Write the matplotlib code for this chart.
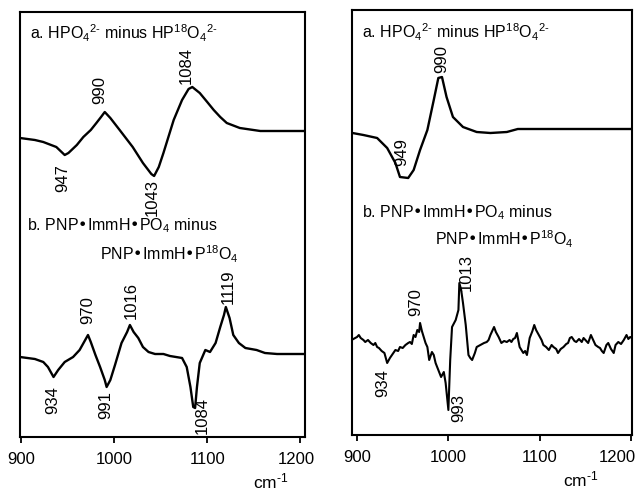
import matplotlib
matplotlib.use('Agg')
import matplotlib.pyplot as plt
import matplotlib.transforms as mtransforms

plt.rcParams['font.family'] = ['Liberation Sans', 'DejaVu Sans']
plt.rcParams['mathtext.default'] = 'regular'

# ---- left panel data (wavenumber, arbitrary intensity) ----
left_a_x = [899, 915, 924, 938, 947, 951, 960, 967, 975, 981, 986, 990, 996, 1006,
            1020, 1031, 1040, 1043, 1048, 1053, 1064, 1073, 1080, 1084, 1092, 1100,
            1107, 1114, 1121, 1135, 1157, 1205]
left_a_y = [299, 297, 295, 290, 282, 284, 292, 300, 307, 314, 320, 325, 319, 307,
            290, 274, 263, 261, 270, 284, 317, 337, 348, 350, 344, 335,
            327, 320, 314, 309, 306, 306]

left_b_x = [899, 915, 924, 929, 935, 940, 947, 956, 963, 969, 972, 975, 980, 985,
            990, 992, 996, 1001, 1008, 1014, 1017, 1021, 1026, 1031, 1037, 1044,
            1053, 1060, 1073, 1078, 1082, 1085, 1087, 1089, 1092, 1098, 1103, 1109,
            1114, 1118, 1120, 1124, 1128, 1134, 1141, 1153, 1162, 1175, 1200, 1205]
left_b_y = [80, 78, 75, 70, 60, 67, 75, 80, 87, 97, 102, 95, 82, 70,
            57, 50, 57, 72, 94, 105, 112, 105, 99, 90, 85, 83,
            83, 81, 79, 70, 50, 30, 29, 50, 74, 87, 85, 94,
            110, 122, 130, 119, 102, 94, 89, 87, 84, 83, 83, 83]

# ---- right panel data ----
right_a_x = [895, 907, 922, 933, 942, 947, 956, 962, 969, 977, 984, 989, 993, 998,
             1005, 1016, 1031, 1046, 1064, 1076, 1193, 1201]
right_a_y = [302, 300, 297, 287, 272, 258, 257, 265, 285, 305, 335, 357, 358, 338,
             318, 308, 303, 302, 303, 306, 306, 306]

right_b_x = [896, 900, 902, 904, 907, 909, 912, 915, 918, 920, 922, 924, 927, 930,
             933, 936, 939, 942, 945, 947, 950, 953, 956, 958, 960, 962, 964, 966,
             968, 969, 971, 973, 975, 977, 979, 982, 984, 986, 989, 992, 995, 997,
             1000, 1002, 1004, 1008, 1011, 1012, 1014, 1016, 1019, 1022, 1024, 1026,
             1029, 1031, 1035, 1039, 1042, 1044, 1046, 1048, 1050, 1052, 1055, 1058,
             1061, 1064, 1067, 1069, 1071, 1073, 1075, 1078, 1080, 1082, 1084, 1086,
             1089, 1092, 1094, 1096, 1099, 1102, 1104, 1107, 1110, 1113, 1115, 1118,
             1120, 1123, 1126, 1129, 1131, 1133, 1135, 1138, 1140, 1143, 1146, 1148,
             1150, 1153, 1156, 1158, 1161, 1164, 1166, 1168, 1170, 1173, 1175, 1178,
             1181, 1183, 1186, 1189, 1192, 1195, 1197, 1199, 1201]
right_b_y = [96, 98, 100, 97, 95, 93, 95, 92, 90, 92, 88, 87, 84, 82,
             72, 77, 81, 85, 84, 88, 87, 90, 92, 93, 91, 100, 98, 105,
             103, 112, 104, 98, 92, 88, 75, 83, 80, 72, 65, 58, 63, 52,
             25, 75, 108, 115, 125, 152, 145, 132, 110, 80, 77, 75,
             82, 88, 90, 92, 93, 95, 100, 104, 108, 103, 98, 92,
             94, 93, 95, 93, 96, 97, 102, 88, 85, 82, 84, 80,
             97, 104, 110, 105, 100, 95, 90, 88, 85, 90, 88, 86,
             82, 86, 88, 91, 92, 97, 98, 94, 93, 96, 93, 97,
             95, 92, 100, 96, 90, 88, 87, 84, 82, 90, 92, 86,
             82, 90, 93, 91, 95, 100, 96, 98, 97]

# ---- peak labels: (text, x, y) ----
left_peak_labels = ['947', '990', '1043', '1084', '934', '970', '991', '1016', '1084', '1119']
left_peak_x = [945, 985, 1041, 1078, 934, 972, 991, 1018, 1095, 1123]
left_peak_y = [259, 347, 240, 372, 37, 127, 32, 137, 22, 150]

right_peak_labels = ['990', '949', '970', '1013', '934', '993']
right_peak_x = [993, 949, 964, 1020, 928, 1011]
right_peak_y = [376, 283, 133, 163, 52, 27]

xticks = [900, 1000, 1100, 1200]

label_a = 'a. HPO$_4$$^{2\u2010}$ minus HP$^{18}$O$_4$$^{2\u2010}$'
label_b1 = 'b. PNP\u2022ImmH\u2022PO$_4$ minus'
label_b2 = 'PNP\u2022ImmH\u2022P$^{18}$O$_4$'
x_unit = 'cm$^{\u20101}$'

fig = plt.figure(figsize=(6.41, 4.90), dpi=100)
W, H = 641, 490


def make_axes(left_px, right_px, top_px, bottom_px, xlim, last_shift):
    ax = fig.add_axes([left_px / W, (H - bottom_px) / H,
                       (right_px - left_px) / W, (bottom_px - top_px) / H])
    ax.set_xlim(*xlim)
    ax.set_ylim(0, 425)
    ax.set_yticks([])
    ax.set_xticks(xticks)
    ax.tick_params(axis='x', direction='out', length=4, width=1.3,
                   labelsize=12, pad=7)
    for sp in ax.spines.values():
        sp.set_linewidth(1.5)
    # nudge the last tick label left so it stays inside the figure
    lab = ax.get_xticklabels()[-1]
    lab.set_transform(lab.get_transform() +
                      mtransforms.ScaledTranslation(last_shift / 100, 0, fig.dpi_scale_trans))
    return ax


ax1 = make_axes(20, 305, 12, 437, (899, 1205), -4)
ax2 = make_axes(352, 632, 10, 435, (894.5, 1201), -14)

ax1.plot(left_a_x, left_a_y, color='black', lw=1.7)
ax1.plot(left_b_x, left_b_y, color='black', lw=1.7)
ax2.plot(right_a_x, right_a_y, color='black', lw=1.7)
ax2.plot(right_b_x, right_b_y, color='black', lw=1.5)

for t, x, y in zip(left_peak_labels, left_peak_x, left_peak_y):
    ax1.text(x, y, t, rotation=90, ha='center', va='center', fontsize=12)
for t, x, y in zip(right_peak_labels, right_peak_x, right_peak_y):
    ax2.text(x, y, t, rotation=90, ha='center', va='center', fontsize=12)

ax1.text(910, 398, label_a, fontsize=11.5, va='baseline')
ax1.text(906, 207, label_b1, fontsize=11.5, va='baseline')
ax1.text(985, 177, label_b2, fontsize=11.5, va='baseline')

ax2.text(905, 397, label_a, fontsize=11.5, va='baseline')
ax2.text(905, 218, label_b1, fontsize=11.5, va='baseline')
ax2.text(985, 190, label_b2, fontsize=11.5, va='baseline')

fig.text(253 / W, 1 - 488 / H, x_unit, fontsize=12.5, va='baseline')
fig.text(563 / W, 1 - 486 / H, x_unit, fontsize=12.5, va='baseline')

fig.savefig('out.png', dpi=100)
